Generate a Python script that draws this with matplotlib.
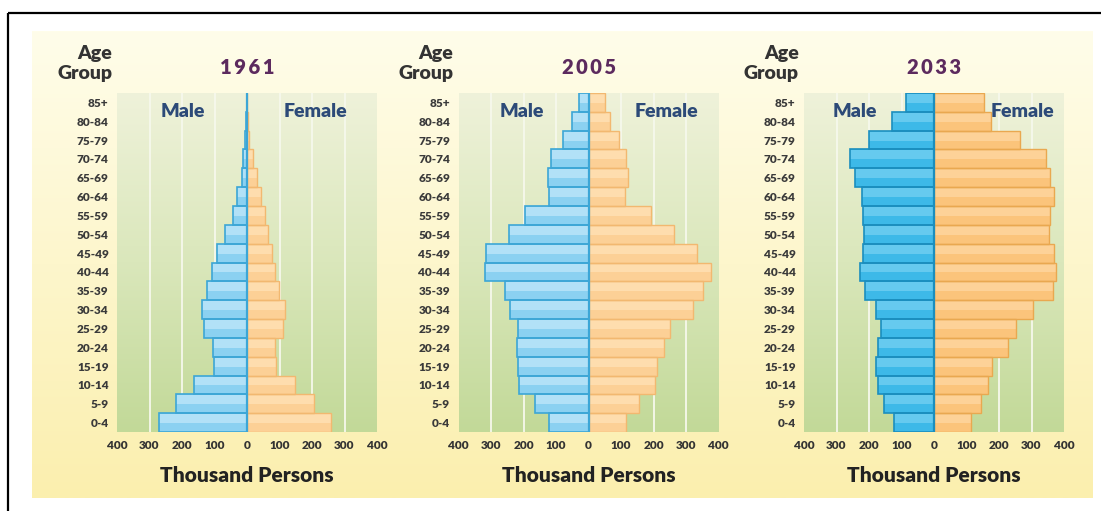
import numpy as np
import matplotlib
matplotlib.use("Agg")
import matplotlib.pyplot as plt
from matplotlib.colors import LinearSegmentedColormap

plt.rcParams['font.family'] = ['Lato', 'DejaVu Sans']

# ----------------------
# Data (thousand persons)
# ----------------------
ages = ["0-4", "5-9", "10-14", "15-19", "20-24", "25-29", "30-34", "35-39", "40-44",
        "45-49", "50-54", "55-59", "60-64", "65-69", "70-74", "75-79", "80-84", "85+"]

years = ["1961", "2005", "2033"]

male_1961 = [270, 220, 162, 102, 105, 133, 138, 122, 108, 93, 68, 43, 32, 14, 11, 5, 2, 1]
female_1961 = [258, 205, 149, 88, 85, 112, 116, 98, 86, 77, 65, 55, 42, 30, 18, 6, 3, 1]

male_2005 = [122, 165, 215, 217, 220, 217, 243, 258, 317, 315, 245, 195, 121, 124, 114, 78, 50, 29]
female_2005 = [116, 155, 205, 212, 233, 251, 322, 351, 377, 335, 264, 191, 112, 121, 114, 93, 67, 50]

male_2033 = [124, 155, 171, 178, 171, 163, 178, 212, 229, 217, 215, 217, 222, 243, 258, 201, 129, 85]
female_2033 = [115, 145, 165, 179, 227, 253, 305, 366, 374, 369, 353, 356, 369, 356, 346, 264, 176, 155]

xticks = [-400, -300, -200, -100, 0, 100, 200, 300, 400]

# ----------------------
# Layout (pixels)
# ----------------------
W, H = 1101, 511
fig = plt.figure(figsize=(W / 100, H / 100), dpi=100)

# background layer in pixel coordinates
bg = fig.add_axes([0, 0, 1, 1])
bg.set_xlim(0, W)
bg.set_ylim(H, 0)
bg.axis("off")
bg.set_zorder(-10)

cream = LinearSegmentedColormap.from_list("cream", ["#FFFDEA", "#FDF6CC", "#FBEFAE"])
grad = np.linspace(0, 1, 256).reshape(-1, 1)
bg.imshow(grad, cmap=cream, extent=(32, 1093, 498, 31), aspect="auto", zorder=0)
bg.plot([8, 8], [13, H], color="black", lw=1.6, solid_capstyle="butt")
bg.plot([8, W], [13, 13], color="black", lw=1.6, solid_capstyle="butt")

green = LinearSegmentedColormap.from_list("green", ["#EFF2DA", "#DAE7BB", "#C2D998"])

panels = [
    ("1961", male_1961, female_1961, 117, -198, 210,
     ("#B2E1F7", "#8BD1F1", "#3CA6D6"), ("#FEDDAE", "#FCD096", "#F2B870")),
    ("2005", male_2005, female_2005, 458.5, -205, 240,
     ("#B2E1F7", "#8BD1F1", "#3CA6D6"), ("#FEDDAE", "#FCD096", "#F2B870")),
    ("2033", male_2033, female_2033, 804, -245, 272,
     ("#66CAEF", "#3DB9E8", "#1B8EBE"), ("#FDD298", "#FBC47B", "#E9A850")),
]

ypos = np.arange(len(ages))
top_px, bottom_px, width_px = 93, 432, 260
heavy = "heavy"

for year, male, female, left_px, male_x, female_x, mcol, fcol in panels:
    ax = fig.add_axes([left_px / W, (H - bottom_px) / H, width_px / W, (bottom_px - top_px) / H])
    ax.set_xlim(-400, 400)
    ax.set_ylim(-0.5, len(ages) - 0.5)

    # pale at the top, greener toward the bottom
    ax.imshow(grad, cmap=green, extent=(-400, 400, -0.5, len(ages) - 0.5),
              aspect="auto", zorder=0)
    for g in [-300, -200, -100, 100, 200, 300]:
        ax.axvline(g, color="#F6F8EC", lw=1.3, zorder=1)

    m = -np.array(male)
    f = np.array(female)
    # two-tone fill for a soft glossy look, then outlines
    ax.barh(ypos, m, height=1.0, color=mcol[1], zorder=2)
    ax.barh(ypos + 0.22, m, height=0.5, color=mcol[0], zorder=3)
    ax.barh(ypos, m, height=1.0, facecolor="none", edgecolor=mcol[2], lw=1.2, zorder=4)
    ax.barh(ypos, f, height=1.0, color=fcol[1], zorder=2)
    ax.barh(ypos + 0.22, f, height=0.5, color=fcol[0], zorder=3)
    ax.barh(ypos, f, height=1.0, facecolor="none", edgecolor=fcol[2], lw=1.0, zorder=4)
    ax.axvline(0, color=mcol[2], lw=1.6, zorder=5)

    for s in ax.spines.values():
        s.set_visible(False)
    ax.set_yticks(ypos)
    ax.set_yticklabels(ages, fontsize=8.5, fontweight=heavy, color="#3A3A3A")
    ax.set_xticks(xticks)
    ax.set_xticklabels([str(abs(t)) for t in xticks], fontsize=8.5, fontweight=heavy,
                       color="#333333")
    ax.tick_params(length=0, pad=6)
    ax.tick_params(axis="y", pad=6)

    ax.text(male_x, 16.5, "Male", ha="center", va="center", fontsize=14,
            fontweight=heavy, color="#2C4A78", zorder=6)
    ax.text(female_x, 16.5, "Female", ha="center", va="center", fontsize=14,
            fontweight=heavy, color="#2C4A78", zorder=6)

    cx = left_px + width_px / 2
    bg.text(cx, 68, "\u2009".join(year), ha="center", va="center", fontsize=14.5,
            fontweight=heavy, color="#5C2A5E")
    bg.text(left_px - 5, 54, "Age", ha="right", va="center", fontsize=14,
            fontweight=heavy, color="#333333")
    bg.text(left_px - 5, 74, "Group", ha="right", va="center", fontsize=14,
            fontweight=heavy, color="#333333")
    bg.text(cx, 475, "Thousand Persons", ha="center", va="center", fontsize=15,
            fontweight=heavy, color="#222222")

fig.savefig("out.png", dpi=100)
